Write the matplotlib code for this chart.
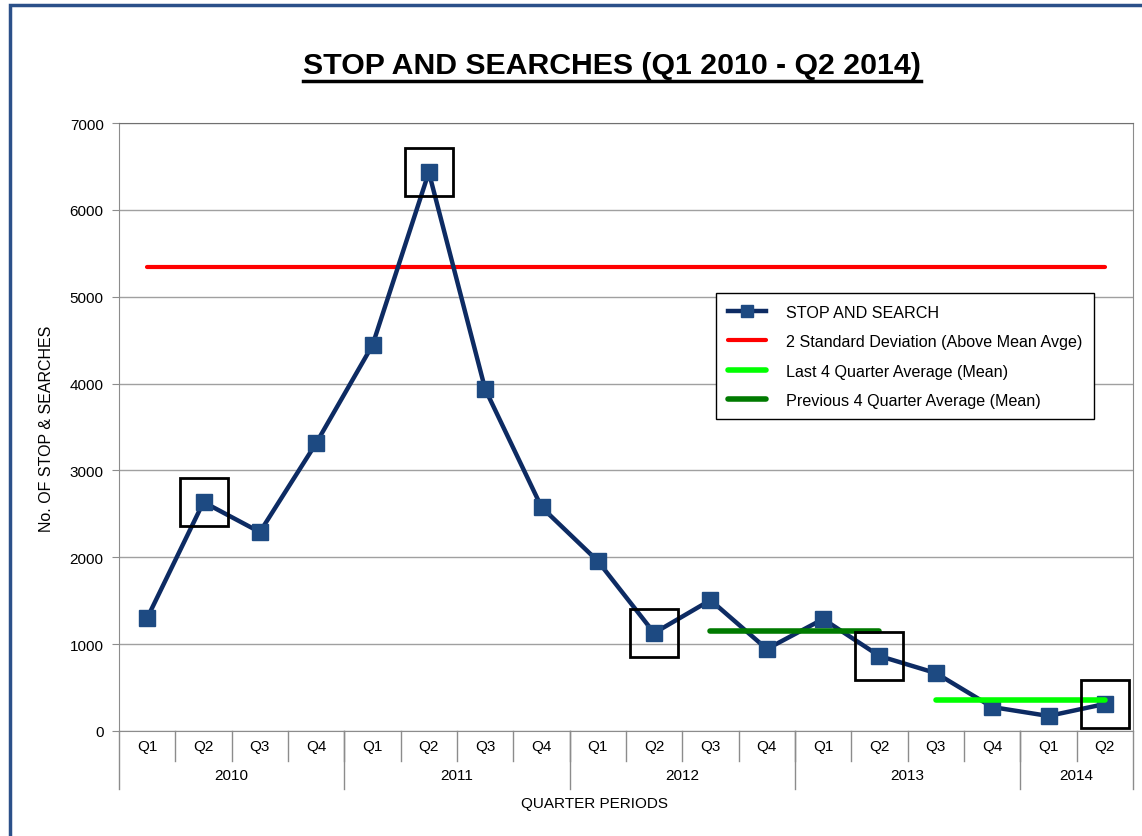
import matplotlib
matplotlib.use("Agg")
import matplotlib.pyplot as plt
from matplotlib.lines import Line2D
from matplotlib.patches import Rectangle
import matplotlib.transforms as mtransforms

plt.rcParams['font.family'] = ['Liberation Sans', 'DejaVu Sans']

# data
quarters = ["Q1", "Q2", "Q3", "Q4"] * 4 + ["Q1", "Q2"]
years = ["2010", "2011", "2012", "2013", "2014"]
year_counts = [4, 4, 4, 4, 2]
searches = [1300, 2635, 2290, 3314, 4442, 6433, 3936, 2578,
            1956, 1128, 1507, 944, 1289, 863, 667, 276, 173, 311]
two_sd = 5340
prev4_idx = [10, 11, 12, 13]
last4_idx = [14, 15, 16, 17]
highlight_idx = [1, 5, 9, 13, 17]

prev4_mean = sum(searches[i] for i in prev4_idx) / 4
last4_mean = sum(searches[i] for i in last4_idx) / 4
x = list(range(len(searches)))

fig = plt.figure(figsize=(11.42, 8.37), dpi=100)
ax = fig.add_axes([119 / 1142, 105 / 837, 1014 / 1142, 608 / 837])

# frame around figure (left/top visible)
fig.add_artist(Rectangle((9.5 / 1142, -0.05), 1.2, 1 - 5.5 / 837 + 0.05,
                         transform=fig.transFigure, fill=False,
                         edgecolor="#2b5089", lw=2.5))

ax.set_xlim(-0.5, len(searches) - 0.5)
ax.set_ylim(0, 7000)
ax.set_yticks(range(0, 7001, 1000))
ax.yaxis.grid(True, color="#a0a0a0", lw=1)
ax.set_axisbelow(True)
for s in ax.spines.values():
    s.set_color("#8c8c8c")
ax.spines["top"].set_color("#707070")
ax.tick_params(axis="y", length=5, color="#8c8c8c", labelsize=11, pad=6)
ax.set_xticks([])

ax.plot([x[0], x[-1]], [two_sd, two_sd], color="#ff0000", lw=3,
        solid_capstyle="round", label="2 Standard Deviation (Above Mean Avge)", zorder=2)
ax.plot([last4_idx[0], last4_idx[-1]], [last4_mean] * 2, color="#00ff00", lw=4,
        solid_capstyle="round", label="Last 4 Quarter Average (Mean)", zorder=4)
ax.plot([prev4_idx[0], prev4_idx[-1]], [prev4_mean] * 2, color="#007a00", lw=4,
        solid_capstyle="round", label="Previous 4 Quarter Average (Mean)", zorder=4)
ax.plot(x, searches, color="#0d2b63", lw=3.2, marker="s", markersize=12,
        markerfacecolor="#1d4a82", markeredgecolor="#1d4a82",
        label="STOP AND SEARCH", zorder=3)
ax.plot(highlight_idx, [searches[i] for i in highlight_idx], ls="none",
        marker="s", markersize=35, markerfacecolor="none",
        markeredgecolor="black", markeredgewidth=2, zorder=5, clip_on=False)

handles, labels = ax.get_legend_handles_labels()
order = [3, 0, 1, 2]
leg = ax.legend([handles[i] for i in order], [labels[i] for i in order],
                loc="upper left", bbox_to_anchor=(0.589, 0.720),
                borderaxespad=0, fancybox=False, edgecolor="black", framealpha=1,
                fontsize=11.6, handlelength=2.4, borderpad=0.7,
                labelspacing=0.9, handletextpad=1.25)
leg.get_frame().set_linewidth(1)
for h in leg.legend_handles:
    if h.get_marker() == "s":
        h.set_markersize(8)

# multi-level x axis
tr = mtransforms.blended_transform_factory(ax.transData, ax.transAxes)
px = 1 / 608
for i in range(1, len(searches)):
    ax.add_line(Line2D([i - 0.5, i - 0.5], [0, -30 * px], transform=tr,
                       color="#8c8c8c", lw=1, clip_on=False))
for i, q in enumerate(quarters):
    ax.text(i, -15 * px, q, transform=tr, ha="center", va="center", fontsize=11)
start = 0
bounds = [0]
for y_lab, n in zip(years, year_counts):
    ax.text(start + n / 2 - 0.5, -44 * px, y_lab, transform=tr,
            ha="center", va="center", fontsize=11)
    start += n
    bounds.append(start)
for b in bounds:
    ax.add_line(Line2D([b - 0.5, b - 0.5], [0, -58 * px], transform=tr,
                       color="#8c8c8c", lw=1, clip_on=False))

ax.text(0.469, -72 * px, "QUARTER PERIODS", transform=ax.transAxes,
        ha="center", va="center", fontsize=11)
fig.text(47 / 1142, 1 - 429 / 837, "No. OF STOP & SEARCHES", rotation=90,
         ha="center", va="center", fontsize=11.5)

title = fig.text(612 / 1142, 1 - 66 / 837, "STOP AND SEARCHES (Q1 2010 - Q2 2014)",
                 ha="center", va="center", fontsize=21.8, fontweight="bold")
fig.canvas.draw()
bb = title.get_window_extent()
uy = bb.y0 - 2
fig.add_artist(Line2D([bb.x0, bb.x1], [uy, uy], transform=None,
                      color="black", lw=2.5))

fig.savefig("out.png", dpi=100)
